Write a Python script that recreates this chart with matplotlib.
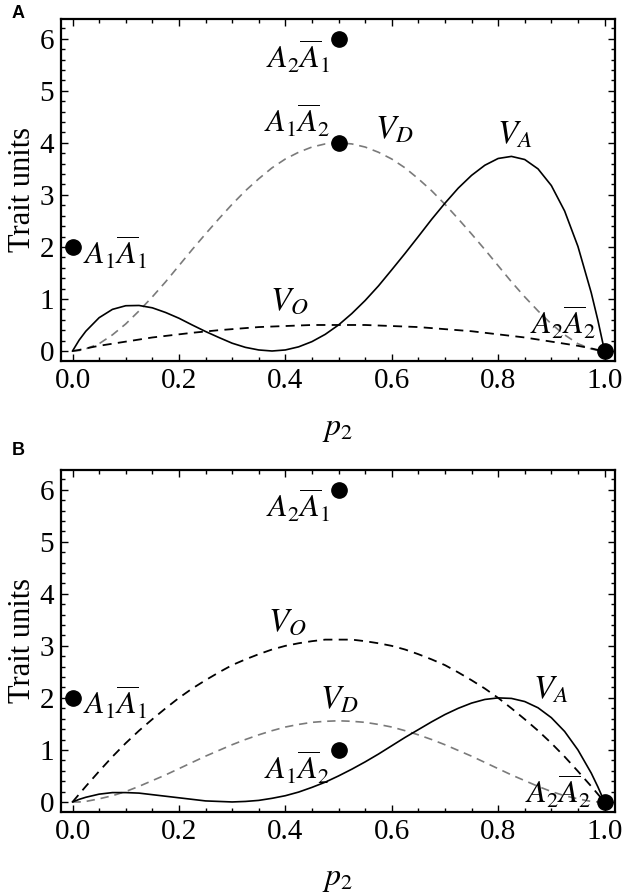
import numpy as np
import matplotlib
matplotlib.use('Agg')
import matplotlib.pyplot as plt
from matplotlib.ticker import MultipleLocator

plt.rcParams['mathtext.fontset'] = 'stix'
plt.rcParams['font.family'] = ['Liberation Serif', 'DejaVu Serif']

# allele frequency grid
p2 = [0.0, 0.0125, 0.025, 0.05, 0.075, 0.1, 0.125, 0.15, 0.175, 0.2, 0.225, 0.25,
      0.275, 0.3, 0.325, 0.35, 0.375, 0.4, 0.425, 0.45, 0.475, 0.5,
      0.525, 0.55, 0.575, 0.6, 0.625, 0.65, 0.675, 0.7, 0.725, 0.75,
      0.775, 0.8, 0.825, 0.85, 0.875, 0.9, 0.925, 0.95, 0.975, 0.9875, 1.0]

# panel A
va_a = [0.0, 0.21, 0.38, 0.64, 0.80, 0.87, 0.875, 0.83, 0.74, 0.63, 0.50, 0.375,
        0.26, 0.15, 0.07, 0.02, 0.0, 0.02, 0.08, 0.18, 0.32, 0.50,
        0.72, 0.97, 1.25, 1.56, 1.875, 2.20, 2.53, 2.84, 3.13, 3.375,
        3.57, 3.70, 3.74, 3.68, 3.50, 3.18, 2.69, 2.01, 1.12, 0.59, 0.0]
vd_a = [0.0, 0.01, 0.04, 0.14, 0.31, 0.52, 0.77, 1.04, 1.33, 1.64, 1.95, 2.25,
        2.54, 2.82, 3.08, 3.31, 3.52, 3.69, 3.82, 3.92, 3.98, 4.00,
        3.98, 3.92, 3.82, 3.69, 3.52, 3.31, 3.08, 2.82, 2.54, 2.25,
        1.95, 1.64, 1.33, 1.04, 0.77, 0.52, 0.31, 0.14, 0.04, 0.01, 0.0]
vo_a = [0.0, 0.02, 0.05, 0.10, 0.14, 0.18, 0.22, 0.26, 0.29, 0.32, 0.35, 0.375,
        0.40, 0.42, 0.44, 0.46, 0.47, 0.48, 0.49, 0.50, 0.50, 0.50,
        0.50, 0.50, 0.49, 0.48, 0.47, 0.46, 0.44, 0.42, 0.40, 0.38,
        0.35, 0.32, 0.29, 0.26, 0.22, 0.18, 0.14, 0.10, 0.05, 0.02, 0.0]
geno_x_a = [0.0, 0.5, 0.5, 1.0]
geno_y_a = [2, 6, 4, 0]

# panel B
va_b = [0.0, 0.05, 0.09, 0.15, 0.18, 0.18, 0.17, 0.14, 0.11, 0.08, 0.05, 0.02,
        0.01, 0.0, 0.01, 0.03, 0.07, 0.12, 0.19, 0.28, 0.38, 0.50,
        0.63, 0.77, 0.92, 1.08, 1.24, 1.39, 1.54, 1.68, 1.80, 1.90,
        1.97, 2.00, 1.99, 1.93, 1.81, 1.62, 1.355, 1.00, 0.555, 0.29, 0.0]
vd_b = [0.0, 0.0, 0.01, 0.06, 0.12, 0.20, 0.30, 0.41, 0.52, 0.64, 0.76, 0.88,
        0.99, 1.10, 1.20, 1.29, 1.37, 1.44, 1.49, 1.53, 1.55, 1.56,
        1.55, 1.53, 1.49, 1.44, 1.37, 1.29, 1.20, 1.10, 0.99, 0.88,
        0.76, 0.64, 0.52, 0.41, 0.30, 0.20, 0.12, 0.06, 0.01, 0.0, 0.0]
vo_b = [0.0, 0.15, 0.30, 0.59, 0.87, 1.13, 1.37, 1.59, 1.80, 2.00, 2.18, 2.34,
        2.49, 2.63, 2.74, 2.84, 2.93, 3.00, 3.05, 3.09, 3.12, 3.12,
        3.12, 3.09, 3.05, 3.00, 2.93, 2.84, 2.74, 2.63, 2.49, 2.34,
        2.18, 2.00, 1.80, 1.59, 1.37, 1.13, 0.87, 0.59, 0.30, 0.15, 0.0]
geno_x_b = [0.0, 0.5, 0.5, 1.0]
geno_y_b = [2, 6, 1, 0]

geno_names = [r'$A_1\overline{A}_1$', r'$A_2\overline{A}_1$',
              r'$A_1\overline{A}_2$', r'$A_2\overline{A}_2$']


def draw_panel(ax, va, vd, vo, gx, gy, lab_pos, curve_pos):
    ax.plot(p2, vd, color='#7a7a7a', lw=1.2, dashes=(5, 3.5))
    ax.plot(p2, vo, color='black', lw=1.3, dashes=(5, 3.5))
    ax.plot(p2, va, color='black', lw=1.2)
    ax.plot(gx, gy, 'o', color='black', ms=11, clip_on=False, zorder=5)

    for name, (x, y, ha) in zip(geno_names, lab_pos):
        ax.text(x, y, name, fontsize=23, ha=ha, va='baseline')
    for name, (x, y) in zip([r'$V_A$', r'$V_D$', r'$V_O$'], curve_pos):
        ax.text(x, y, name, fontsize=24, ha='left', va='baseline')

    ax.set_xlim(-0.0216, 1.0197)
    ax.set_ylim(-0.187, 6.386)
    ax.xaxis.set_major_locator(MultipleLocator(0.2))
    ax.xaxis.set_minor_locator(MultipleLocator(0.05))
    ax.yaxis.set_major_locator(MultipleLocator(1))
    ax.yaxis.set_minor_locator(MultipleLocator(0.2))
    ax.xaxis.set_major_formatter(plt.FuncFormatter(lambda v, pos: f'{v:.1f}'))
    ax.tick_params(which='both', direction='in', top=True, right=True,
                   labelsize=21, width=1.0, pad=5)
    ax.tick_params(which='major', length=5)
    ax.tick_params(which='minor', length=3)
    for s in ax.spines.values():
        s.set_linewidth(1.6)
    ax.set_ylabel('Trait units', fontsize=22, labelpad=2)
    ax.set_xlabel(r'$p_2$', fontsize=23, labelpad=15)


fig = plt.figure(figsize=(6.24, 8.96), dpi=100)
ax_a = fig.add_axes([0.0978, 0.5974, 0.8878, 0.3817])
ax_b = fig.add_axes([0.0978, 0.0941, 0.8878, 0.3817])

draw_panel(ax_a, va_a, vd_a, vo_a, geno_x_a, geno_y_a,
           [(0.02, 1.65, 'left'), (0.485, 5.43, 'right'),
            (0.485, 4.2, 'right'), (0.985, 0.31, 'right')],
           [(0.798, 3.99), (0.568, 4.09), (0.371, 0.79)])
draw_panel(ax_b, va_b, vd_b, vo_b, geno_x_b, geno_y_b,
           [(0.02, 1.67, 'left'), (0.485, 5.47, 'right'),
            (0.485, 0.42, 'right'), (0.975, -0.03, 'right')],
           [(0.866, 1.99), (0.465, 1.80), (0.367, 3.30)])

fig.text(12 / 624, 1 - 18 / 896, 'A', fontsize=13, weight='bold',
         family='Liberation Sans')
fig.text(12 / 624, 1 - 455 / 896, 'B', fontsize=13, weight='bold',
         family='Liberation Sans')

fig.savefig('out.png', dpi=100)
